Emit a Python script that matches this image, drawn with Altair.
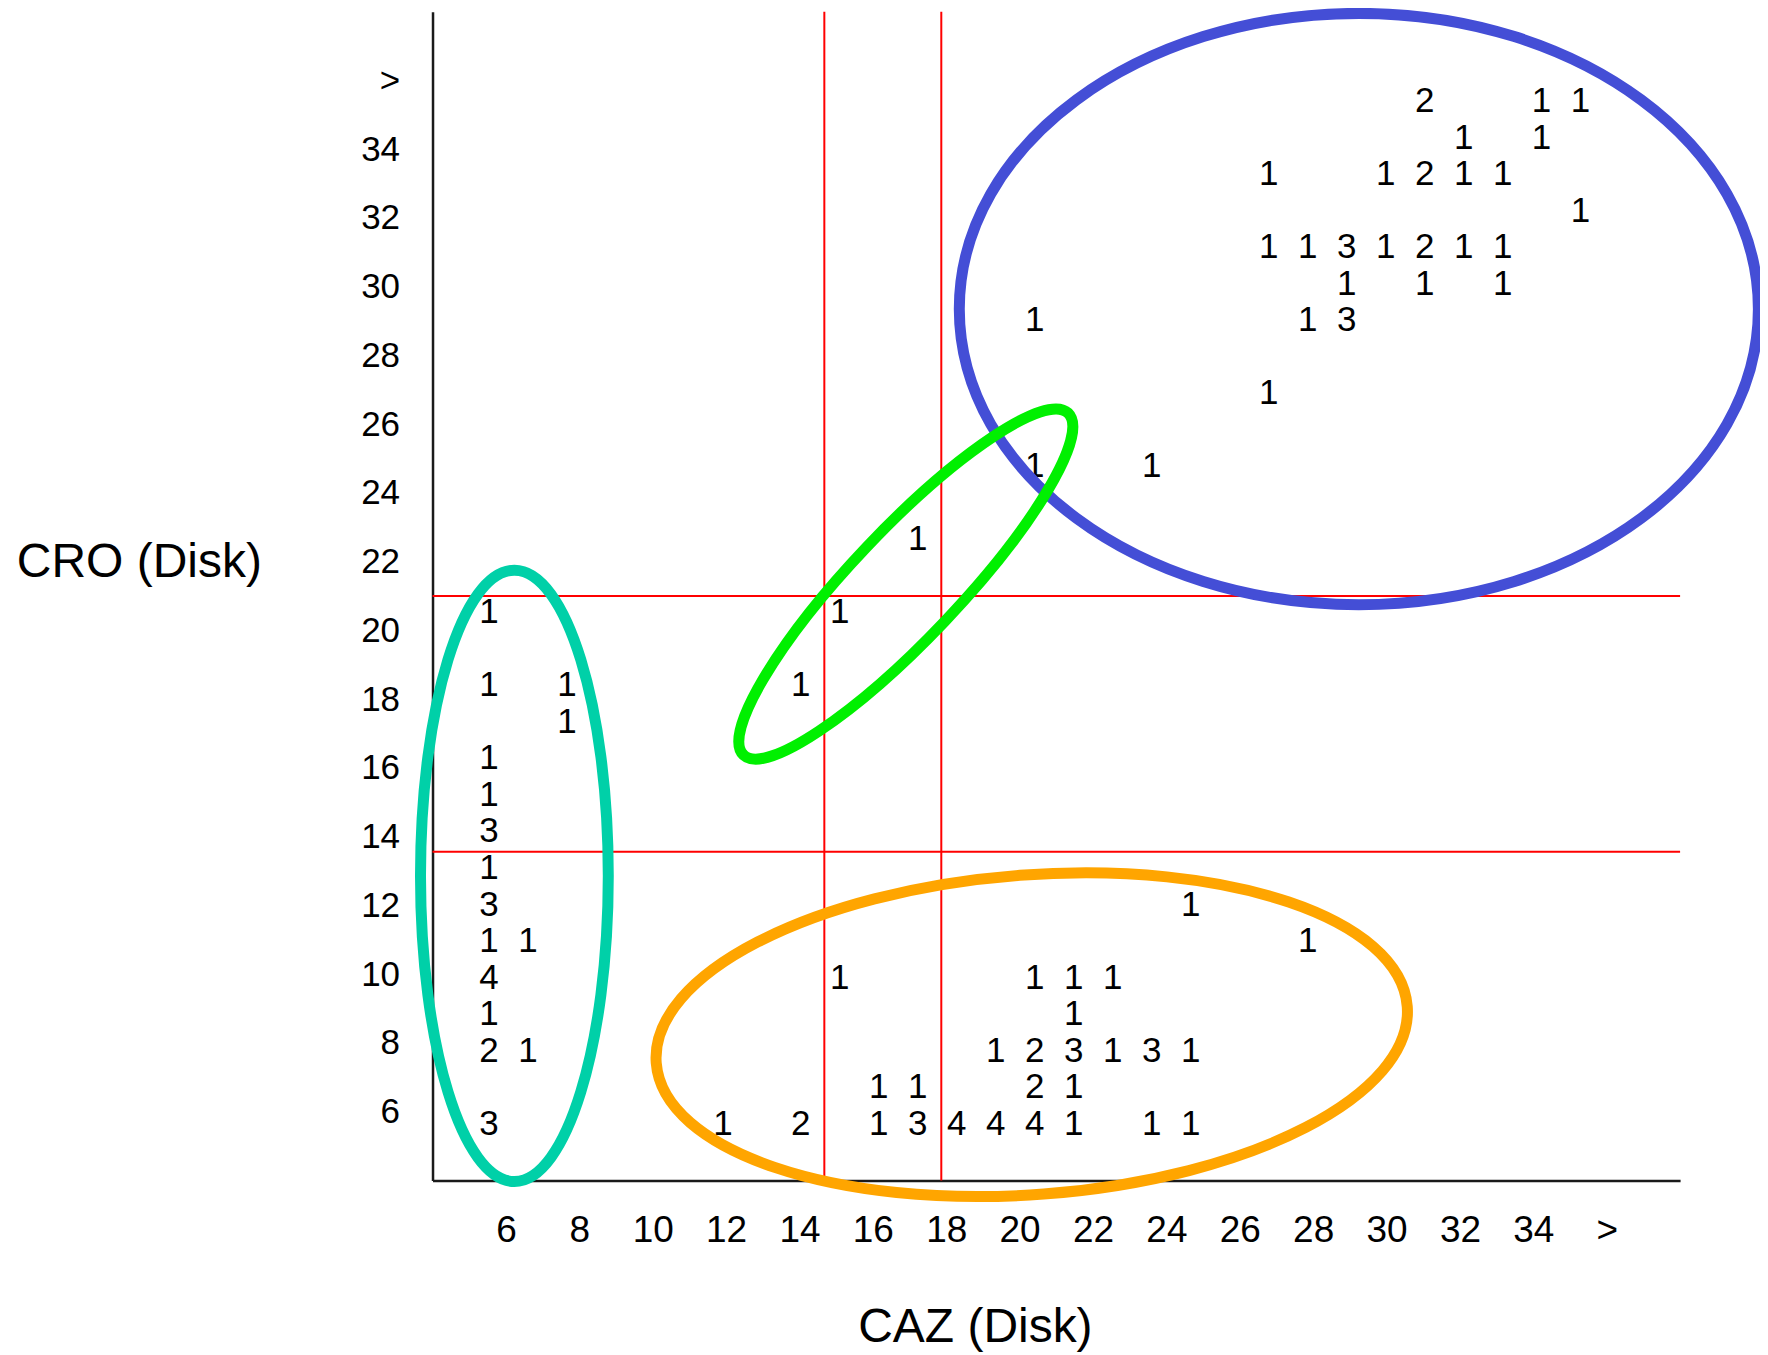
import altair as alt
import pandas as pd

# ---- data (CAZ disk zone x CRO disk zone, number of isolates) ----
caz_disk = [30, 33, 34,
            31, 33,
            26, 29, 30, 31, 32,
            34,
            26, 27, 28, 29, 30, 31, 32,
            28, 30, 32,
            20, 27, 28,
            26,
            20, 23,
            17,
            6, 15,
            6, 8, 14,
            8,
            6,
            6,
            6,
            6,
            6, 24,
            6, 7, 27,
            6, 15, 20, 21, 22,
            6, 21,
            6, 7, 19, 20, 21, 22, 23, 24,
            16, 17, 20, 21,
            6, 12, 14, 16, 17, 18, 19, 20, 21, 23, 24]
cro_disk = [34, 34, 34,
            33, 33,
            32, 32, 32, 32, 32,
            31,
            30, 30, 30, 30, 30, 30, 30,
            29, 29, 29,
            28, 28, 28,
            26,
            24, 24,
            22,
            20, 20,
            18, 18, 18,
            17,
            16,
            15,
            14,
            13,
            12, 12,
            11, 11, 11,
            10, 10, 10, 10, 10,
            9, 9,
            8, 8, 8, 8, 8, 8, 8, 8,
            7, 7, 7, 7,
            6, 6, 6, 6, 6, 6, 6, 6, 6, 6, 6]
isolates = [2, 1, 1,
            1, 1,
            1, 1, 2, 1, 1,
            1,
            1, 1, 3, 1, 2, 1, 1,
            1, 1, 1,
            1, 1, 3,
            1,
            1, 1,
            1,
            1, 1,
            1, 1, 1,
            1,
            1,
            1,
            3,
            1,
            3, 1,
            1, 1, 1,
            4, 1, 1, 1, 1,
            1, 1,
            2, 1, 1, 2, 3, 1, 3, 1,
            1, 1, 2, 1,
            3, 1, 2, 1, 3, 4, 4, 4, 1, 1, 1]

caz_breakpoints = [14.5, 17.5]
cro_breakpoints = [13.5, 20.5]

tick_values = [6, 8, 10, 12, 14, 16, 18, 20, 22, 24, 26, 28, 30, 32, 34, 36]
tick_labels = ["6", "8", "10", "12", "14", "16", "18", "20", "22", "24", "26", "28",
               "30", "32", "34", ">"]

# annotation ellipses: centre (in disk-zone units)
ellipse_names = ["blue", "green", "teal", "orange"]
ellipse_cx = [28.21, 16.59, 6.55, 19.82]
ellipse_cy = [28.36, 20.83, 12.84, 8.49]

df = pd.DataFrame({"caz": caz_disk, "cro": cro_disk, "n": isolates})

FONT = "Liberation Sans"
xs = alt.Scale(domain=[4.45, 36.45], nice=False, zero=False)
ys = alt.Scale(domain=[4.5, 36.5], nice=False, zero=False)


def ellipse_path(rx, ry):
    k = 0.5523
    f = lambda v: f"{v:.4f}"
    return (f"M {f(rx)},0 C {f(rx)},{f(k*ry)} {f(k*rx)},{f(ry)} 0,{f(ry)} "
            f"C {f(-k*rx)},{f(ry)} {f(-rx)},{f(k*ry)} {f(-rx)},0 "
            f"C {f(-rx)},{f(-k*ry)} {f(-k*rx)},{f(-ry)} 0,{f(-ry)} "
            f"C {f(k*rx)},{f(-ry)} {f(rx)},{f(-k*ry)} {f(rx)},0 Z")


ellipse_style = {
    "blue":   dict(a=400, b=296, angle=0, color="#444ED6"),
    "green":  dict(a=236, b=54, angle=313.5, color="#00F000"),
    "teal":   dict(a=306, b=94, angle=90, color="#00D0A8"),
    "orange": dict(a=377, b=160, angle=355.7, color="#FFA500"),
}

vlines = alt.Chart(pd.DataFrame({"bp": caz_breakpoints})).mark_rule(
    color="#ff0000", strokeWidth=2
).encode(x=alt.X("bp:Q", scale=xs, axis=None))

hlines = alt.Chart(pd.DataFrame({"bp": cro_breakpoints})).mark_rule(
    color="#ff0000", strokeWidth=2
).encode(y=alt.Y("bp:Q", scale=ys, axis=None))

counts = alt.Chart(df).mark_text(
    font=FONT, fontSize=35, color="black", align="center", baseline="middle",
    dx=-4, dy=-2,
).encode(
    x=alt.X("caz:Q", scale=xs, axis=None),
    y=alt.Y("cro:Q", scale=ys, axis=None),
    text="n:Q",
)

ellipses = []
for name, cx, cy in zip(ellipse_names, ellipse_cx, ellipse_cy):
    st = ellipse_style[name]
    path = ellipse_path(1.0, st["b"] / st["a"])
    ellipses.append(
        alt.Chart(pd.DataFrame({"cx": [cx], "cy": [cy]})).mark_point(
            shape=path, size=(2 * st["a"]) ** 2, angle=st["angle"],
            filled=False, color=st["color"], strokeWidth=11, opacity=1,
        ).encode(
            x=alt.X("cx:Q", scale=xs, axis=None),
            y=alt.Y("cy:Q", scale=ys, axis=None),
        )
    )

inner = alt.layer(vlines, hlines, counts, *ellipses)

label_expr = " : ".join(
    f"datum.value == {v} ? '{t}'" for v, t in zip(tick_values, tick_labels)
) + " : ''"

axis_common = dict(
    values=tick_values, labelExpr=label_expr, grid=False, ticks=False, tickSize=0,
    domain=True, domainColor="#1a1a1a", domainWidth=2.5,
    labelFont=FONT, labelColor="black", labelFlush=False, labelOverlap=False,
    titleFont=FONT, titleFontSize=48, titleFontWeight="normal", titleColor="black",
    titleAlign="center", titleBaseline="middle",
)

axes = alt.Chart(pd.DataFrame({"t": tick_values})).mark_point(opacity=0).encode(
    x=alt.X("t:Q", scale=alt.Scale(domain=[4, 38], nice=False, zero=False),
            axis=alt.Axis(orient="bottom", title="CAZ (Disk)", labelFontSize=37,
                          labelPadding=50, labelBaseline="middle", labelAlign="center",
                          titleX=543, titleY=147, **axis_common)),
    y=alt.Y("t:Q", scale=alt.Scale(domain=[4, 38], nice=False, zero=False),
            axis=alt.Axis(orient="left", title="CRO (Disk)", labelFontSize=35,
                          labelPadding=33, labelBaseline="middle", labelAlign="right",
                          titleAngle=0, titleX=-294, titleY=551, **axis_common)),
)

chart = alt.layer(inner, axes).resolve_scale(
    x="independent", y="independent"
).properties(
    width=1249, height=1170,
    autosize=alt.AutoSizeParams(type="none"),
    padding={"left": 425, "top": 3, "right": 80, "bottom": 174},
    background="white",
).configure_view(strokeWidth=0)

chart.save("out.html", embed_options={"renderer": "svg", "actions": False})
